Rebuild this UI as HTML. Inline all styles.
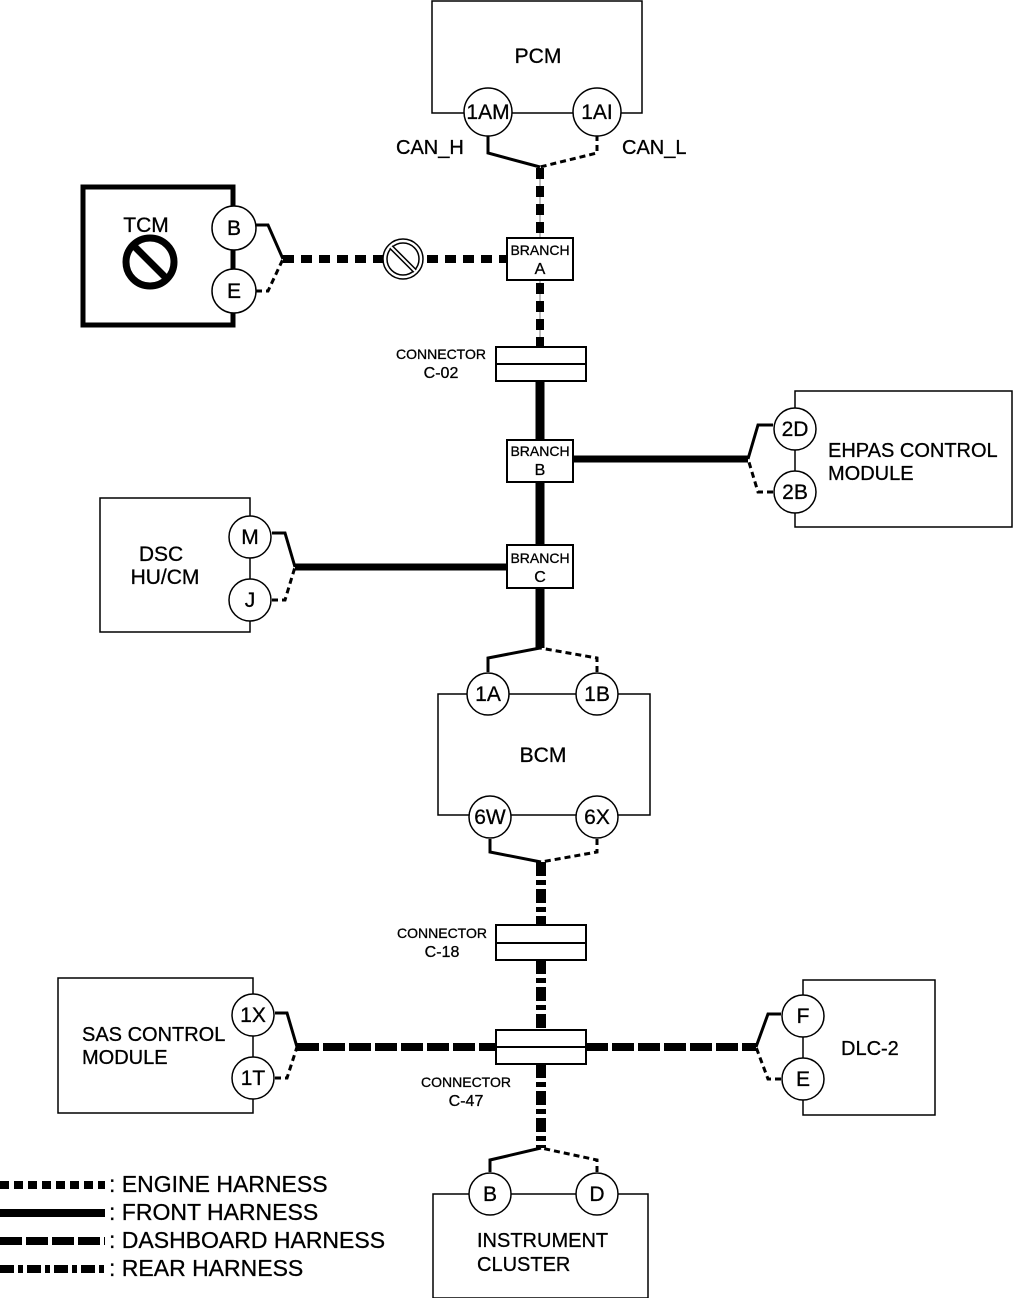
<!DOCTYPE html>
<html><head><meta charset="utf-8"><style>
html,body{margin:0;padding:0;background:#fff}
svg{display:block}
text{font-family:"Liberation Sans Narrow","Liberation Sans",Arial,sans-serif;fill:#000;stroke:#000;stroke-width:0.3}
</style></head><body>
<svg width="1013" height="1298" viewBox="0 0 1013 1298" xmlns="http://www.w3.org/2000/svg">
<g fill="none" stroke="#000">
<rect x="432" y="1" width="210" height="112" stroke-width="1.5"/>
<rect x="83" y="187" width="150" height="138" stroke-width="5"/>
<rect x="795" y="391" width="217" height="136" stroke-width="1.5"/>
<rect x="100" y="498" width="150" height="134" stroke-width="1.5"/>
<rect x="438" y="694" width="212" height="121" stroke-width="1.5"/>
<rect x="58" y="978" width="195" height="135" stroke-width="1.5"/>
<rect x="803" y="980" width="132" height="135" stroke-width="1.5"/>
<rect x="433" y="1194" width="215" height="104" stroke-width="1.5"/>

<line x1="540" y1="168" x2="540" y2="238" stroke-width="1" stroke="#777"/>
<line x1="540" y1="168" x2="540" y2="238" stroke-width="8" stroke-dasharray="11 7"/>
<line x1="540" y1="280" x2="540" y2="347" stroke-width="1" stroke="#777"/>
<line x1="540" y1="283" x2="540" y2="347" stroke-width="8" stroke-dasharray="11 7"/>
<line x1="283" y1="259" x2="507" y2="259" stroke-width="8" stroke-dasharray="11 7"/>
<line x1="540" y1="381" x2="540" y2="440" stroke-width="9"/>
<line x1="540" y1="482" x2="540" y2="545" stroke-width="9"/>
<line x1="540" y1="588" x2="540" y2="648" stroke-width="9"/>
<line x1="573" y1="459" x2="748" y2="459" stroke-width="7"/>
<line x1="295" y1="567" x2="507" y2="567" stroke-width="7"/>
<line x1="541" y1="862" x2="541" y2="925" stroke-width="10" stroke-dasharray="14 4 5 4"/>
<line x1="541" y1="960" x2="541" y2="1030" stroke-width="10" stroke-dasharray="14 4 5 4"/>
<line x1="541" y1="1064" x2="541" y2="1148" stroke-width="10" stroke-dasharray="14 4 5 4"/>
<line x1="297" y1="1047" x2="496" y2="1047" stroke-width="8" stroke-dasharray="22 4"/>
<line x1="586" y1="1047" x2="756" y2="1047" stroke-width="8" stroke-dasharray="22 4"/>

<g stroke-width="3">
<polyline points="488,135 488,153 540,167"/>
<polyline points="597,135 597,153 540,167" stroke-dasharray="6 4"/>
<polyline points="256,225 268,225 283,259"/>
<polyline points="256,291 268,291 283,259" stroke-dasharray="6 4"/>
<polyline points="773,425 758,425 748,459"/>
<polyline points="773,492 758,492 748,459" stroke-dasharray="6 4"/>
<polyline points="272,533 285,533 295,567"/>
<polyline points="272,600 285,600 295,567" stroke-dasharray="6 4"/>
<polyline points="488,672 488,658 540,648"/>
<polyline points="597,672 597,658 540,648" stroke-dasharray="6 4"/>
<polyline points="490,839 490,852 541,862"/>
<polyline points="597,839 597,852 541,862" stroke-dasharray="6 4"/>
<polyline points="275,1013 287,1013 297,1047"/>
<polyline points="275,1078 287,1078 297,1047" stroke-dasharray="6 4"/>
<polyline points="781,1014 768,1014 756,1047"/>
<polyline points="781,1079 768,1079 756,1047" stroke-dasharray="6 4"/>
<polyline points="490,1172 490,1160 541,1148"/>
<polyline points="597,1172 597,1160 541,1148" stroke-dasharray="6 4"/>
</g>

<g fill="#fff" stroke-width="2">
<rect x="507" y="238" width="66" height="42"/>
<rect x="507" y="440" width="66" height="42"/>
<rect x="507" y="545" width="66" height="43"/>
<rect x="496" y="347" width="90" height="34"/>
<rect x="496" y="925" width="90" height="35"/>
<rect x="496" y="1030" width="90" height="34"/>
</g>
<line x1="496" y1="364" x2="586" y2="364" stroke-width="2"/>
<line x1="496" y1="943" x2="586" y2="943" stroke-width="2"/>
<line x1="496" y1="1047" x2="586" y2="1047" stroke-width="2"/>

<g fill="#fff" stroke-width="1.5">
<circle cx="488" cy="112" r="24"/><circle cx="597" cy="112" r="24"/>
<circle cx="234" cy="228" r="22"/><circle cx="234" cy="291" r="22"/>
<circle cx="795" cy="429" r="21"/><circle cx="795" cy="492" r="21"/>
<circle cx="250" cy="537" r="21"/><circle cx="250" cy="600" r="21"/>
<circle cx="488" cy="694" r="21"/><circle cx="597" cy="694" r="21"/>
<circle cx="490" cy="817" r="21"/><circle cx="597" cy="817" r="21"/>
<circle cx="253" cy="1015" r="21"/><circle cx="253" cy="1078" r="21"/>
<circle cx="803" cy="1016" r="21"/><circle cx="803" cy="1079" r="21"/>
<circle cx="490" cy="1194" r="21"/><circle cx="597" cy="1194" r="21"/>
</g>
<circle cx="150" cy="262" r="24" stroke-width="7"/>
<line x1="133" y1="245" x2="167" y2="279" stroke-width="7"/>
<circle cx="403" cy="259" r="20" stroke-width="1.5" fill="#fff"/>
<circle cx="403" cy="259" r="16" stroke-width="1.5"/>
<line x1="391" y1="247" x2="415" y2="271" stroke-width="5"/>
<line x1="391" y1="247" x2="415" y2="271" stroke-width="2" stroke="#fff"/>

<line x1="0" y1="1185" x2="105" y2="1185" stroke-width="8" stroke-dasharray="9 5"/>
<line x1="0" y1="1213" x2="105" y2="1213" stroke-width="8"/>
<line x1="0" y1="1241" x2="105" y2="1241" stroke-width="8" stroke-dasharray="22 4"/>
<line x1="0" y1="1269" x2="105" y2="1269" stroke-width="8" stroke-dasharray="14 4 5 4"/>
</g>

<g font-size="21" text-anchor="middle">
<text x="538" y="63">PCM</text>
<text x="488" y="119">1AM</text><text x="597" y="119">1AI</text>
<text x="234" y="235">B</text><text x="234" y="298">E</text>
<text x="795" y="436">2D</text><text x="795" y="499">2B</text>
<text x="250" y="544">M</text><text x="250" y="607">J</text>
<text x="488" y="701">1A</text><text x="597" y="701">1B</text>
<text x="490" y="824">6W</text><text x="597" y="824">6X</text>
<text x="253" y="1022">1X</text><text x="253" y="1085">1T</text>
<text x="803" y="1023">F</text><text x="803" y="1086">E</text>
<text x="490" y="1201">B</text><text x="597" y="1201">D</text>
<text x="543" y="762">BCM</text>
<text x="146" y="232">TCM</text>
<text x="161" y="561">DSC</text><text x="165" y="584">HU/CM</text>
</g>
<g font-size="20">
<text x="396" y="154">CAN_H</text><text x="622" y="154">CAN_L</text>
<text x="828" y="457">EHPAS CONTROL</text><text x="828" y="480">MODULE</text>
<text x="82" y="1041">SAS CONTROL</text><text x="82" y="1064">MODULE</text>
<text x="841" y="1055">DLC-2</text>
<text x="477" y="1247">INSTRUMENT</text><text x="477" y="1271">CLUSTER</text>
<text x="109" y="1192" font-size="23">: ENGINE HARNESS</text>
<text x="109" y="1220" font-size="23">: FRONT HARNESS</text>
<text x="109" y="1248" font-size="23">: DASHBOARD HARNESS</text>
<text x="109" y="1276" font-size="23">: REAR HARNESS</text>
</g>
<g font-size="14" text-anchor="middle">
<text x="540" y="255">BRANCH</text><text x="540" y="274" font-size="16">A</text>
<text x="540" y="456">BRANCH</text><text x="540" y="475" font-size="16">B</text>
<text x="540" y="563">BRANCH</text><text x="540" y="582" font-size="16">C</text>
<text x="441" y="359">CONNECTOR</text><text x="441" y="378" font-size="16">C-02</text>
<text x="442" y="938">CONNECTOR</text><text x="442" y="957" font-size="16">C-18</text>
<text x="466" y="1087">CONNECTOR</text><text x="466" y="1106" font-size="16">C-47</text>
</g>
</svg>
</body></html>
